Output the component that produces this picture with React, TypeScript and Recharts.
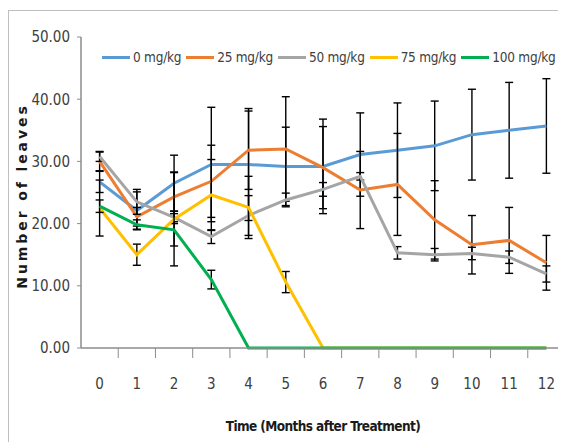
import { LineChart, Line, XAxis, YAxis, ErrorBar, Legend } from 'recharts'

const MONTHS = ['0', '1', '2', '3', '4', '5', '6', '7', '8', '9', '10', '11', '12']
const Y_TICKS = [0, 10, 20, 30, 40, 50]

const SERIES_NAMES = ['0 mg/kg', '25 mg/kg', '50 mg/kg', '75 mg/kg', '100 mg/kg']
const SERIES_COLORS = ['#5B9BD5', '#ED7D31', '#A5A5A5', '#FFC000', '#00B050']

const DOSE_0 = [26.7, 22.1, 26.5, 29.5, 29.5, 29.2, 29.2, 31.1, 31.8, 32.5, 34.3, 35.0, 35.7]
const DOSE_25 = [30.0, 21.1, 24.3, 26.8, 31.8, 32.0, 29.0, 25.4, 26.3, 20.6, 16.6, 17.3, 13.7]
const DOSE_50 = [30.8, 23.5, 21.0, 17.9, 21.3, 23.8, 25.5, 27.6, 15.3, 15.0, 15.2, 14.6, 11.9]
const DOSE_75 = [22.5, 15.0, 20.7, 24.6, 22.6, 10.6, 0, 0, 0, 0, 0, 0, 0]
const DOSE_100 = [22.8, 19.8, 19.0, 11.0, 0, 0, 0, 0, 0, 0, 0, 0, 0]

const ERR_0 = [1.7, 3.0, 4.5, 9.2, 9.0, 6.3, 7.6, 6.7, 7.6, 7.2, 7.3, 7.7, 7.6]
const ERR_25 = [1.5, 1.5, 4.0, 5.8, 6.3, 8.4, 6.6, 6.2, 8.2, 6.3, 4.7, 5.3, 4.4]
const ERR_50 = [0.8, 2.0, 1.0, 1.1, 3.2, 1.1, 1.1, 0.6, 1.0, 1.0, 1.0, 1.0, 1.3]
const ERR_75 = [4.5, 1.7, 7.5, 5.7, 5.0, 1.7, null, null, null, null, null, null, null]
const ERR_100 = [1.0, 0.8, 2.6, 1.5, null, null, null, null, null, null, null, null, null]

const VALUES = [DOSE_0, DOSE_25, DOSE_50, DOSE_75, DOSE_100]
const ERRORS = [ERR_0, ERR_25, ERR_50, ERR_75, ERR_100]

const data = MONTHS.map((m, i) => {
  const row: Record<string, any> = { month: m }
  VALUES.forEach((vals, s) => {
    row[`v${s}`] = vals[i]
    row[`e${s}`] = ERRORS[s][i]
  })
  return row
})

const FONT = '"DejaVu Sans", sans-serif'
const TEXT = '#404040'
const AXIS = '#8c8c8c'

const CHART_W = 557
const CHART_H = 431
const Y_AXIS_W = 72
const PLOT_W = CHART_W - Y_AXIS_W - 1
const BAND = PLOT_W / MONTHS.length

function MonthTick(props: any) {
  const { x, y, payload, index } = props
  const left = x - BAND / 2
  return (
    <g>
      {index > 0 && <line x1={left} x2={left} y1={y} y2={y + 10} stroke={AXIS} strokeWidth={1} />}
      {index === MONTHS.length - 1 && (
        <line x1={left + BAND} x2={left + BAND} y1={y} y2={y + 10} stroke={AXIS} strokeWidth={1} />
      )}
      <text x={x} y={y + 41} textAnchor="middle" fill={TEXT} fontSize={15} fontFamily={FONT}>
        {payload.value}
      </text>
    </g>
  )
}

function LegendRow() {
  return (
    <div
      style={{
        display: 'flex',
        alignItems: 'center',
        whiteSpace: 'nowrap',
        fontFamily: FONT,
        fontStretch: 'condensed',
        fontSize: 13.5,
        letterSpacing: -0.25,
        color: TEXT,
      }}
    >
      {SERIES_NAMES.map((name, i) => (
        <div key={name} style={{ display: 'flex', alignItems: 'center', marginRight: 5 }}>
          <span style={{ width: 28, height: 3, background: SERIES_COLORS[i], marginRight: 3 }} />
          <span>{name}</span>
        </div>
      ))}
    </div>
  )
}

export default function App() {
  return (
    <div
      style={{
        marginTop: 2,
        width: 557,
        height: 431,
        borderLeft: '1px solid #bfbfbf',
        borderTop: '1px solid #bfbfbf',
        background: '#fff',
      }}
    >
      <style>{'svg text { font-stretch: condensed; }'}</style>
      <LineChart width={CHART_W} height={CHART_H} data={data} margin={{ top: 26, right: 1, left: 0, bottom: 0 }}>
        <XAxis
          dataKey="month"
          scale="band"
          height={94}
          tickSize={0}
          tickMargin={0}
          tickLine={false}
          axisLine={{ stroke: AXIS, strokeWidth: 1.5 }}
          tick={<MonthTick />}
          interval={0}
          label={() => (
            <text
              x={314}
              y={420}
              textAnchor="middle"
              fill="#1a1a1a"
              fontSize={13.5}
              letterSpacing={-0.6}
              fontWeight="bold"
              fontFamily={FONT}
            >
              Time (Months after Treatment)
            </text>
          )}
        />
        <YAxis
          width={Y_AXIS_W}
          domain={[0, 50]}
          ticks={Y_TICKS}
          tickFormatter={(v: number) => v.toFixed(2)}
          tickSize={4}
          tickMargin={7}
          tickLine={{ stroke: AXIS }}
          axisLine={{ stroke: AXIS, strokeWidth: 1.5 }}
          tick={{ fill: TEXT, fontSize: 15, fontFamily: FONT }}
          label={() => (
            <text
              x={13}
              y={185}
              transform="rotate(-90 13 185)"
              textAnchor="middle"
              dominantBaseline="central"
              fill="#1a1a1a"
              fontSize={14}
              fontWeight="bold"
              letterSpacing={2.9}
              fontFamily={FONT}
              style={{ fontStretch: 'normal' }}
            >
              Number of leaves
            </text>
          )}
        />
        <Legend
          layout="horizontal"
          verticalAlign="middle"
          align="center"
          wrapperStyle={{ top: 38, left: 93, width: 470 }}
          content={() => <LegendRow />}
        />
        {SERIES_NAMES.map((name, s) => (
          <Line
            key={name}
            name={name}
            type="linear"
            dataKey={`v${s}`}
            stroke={SERIES_COLORS[s]}
            strokeWidth={3}
            dot={false}
            activeDot={false}
            isAnimationActive={false}
          >
            <ErrorBar dataKey={`e${s}`} width={4} stroke="#000" strokeWidth={1.4} direction="y" isAnimationActive={false} />
          </Line>
        ))}
      </LineChart>
    </div>
  )
}
